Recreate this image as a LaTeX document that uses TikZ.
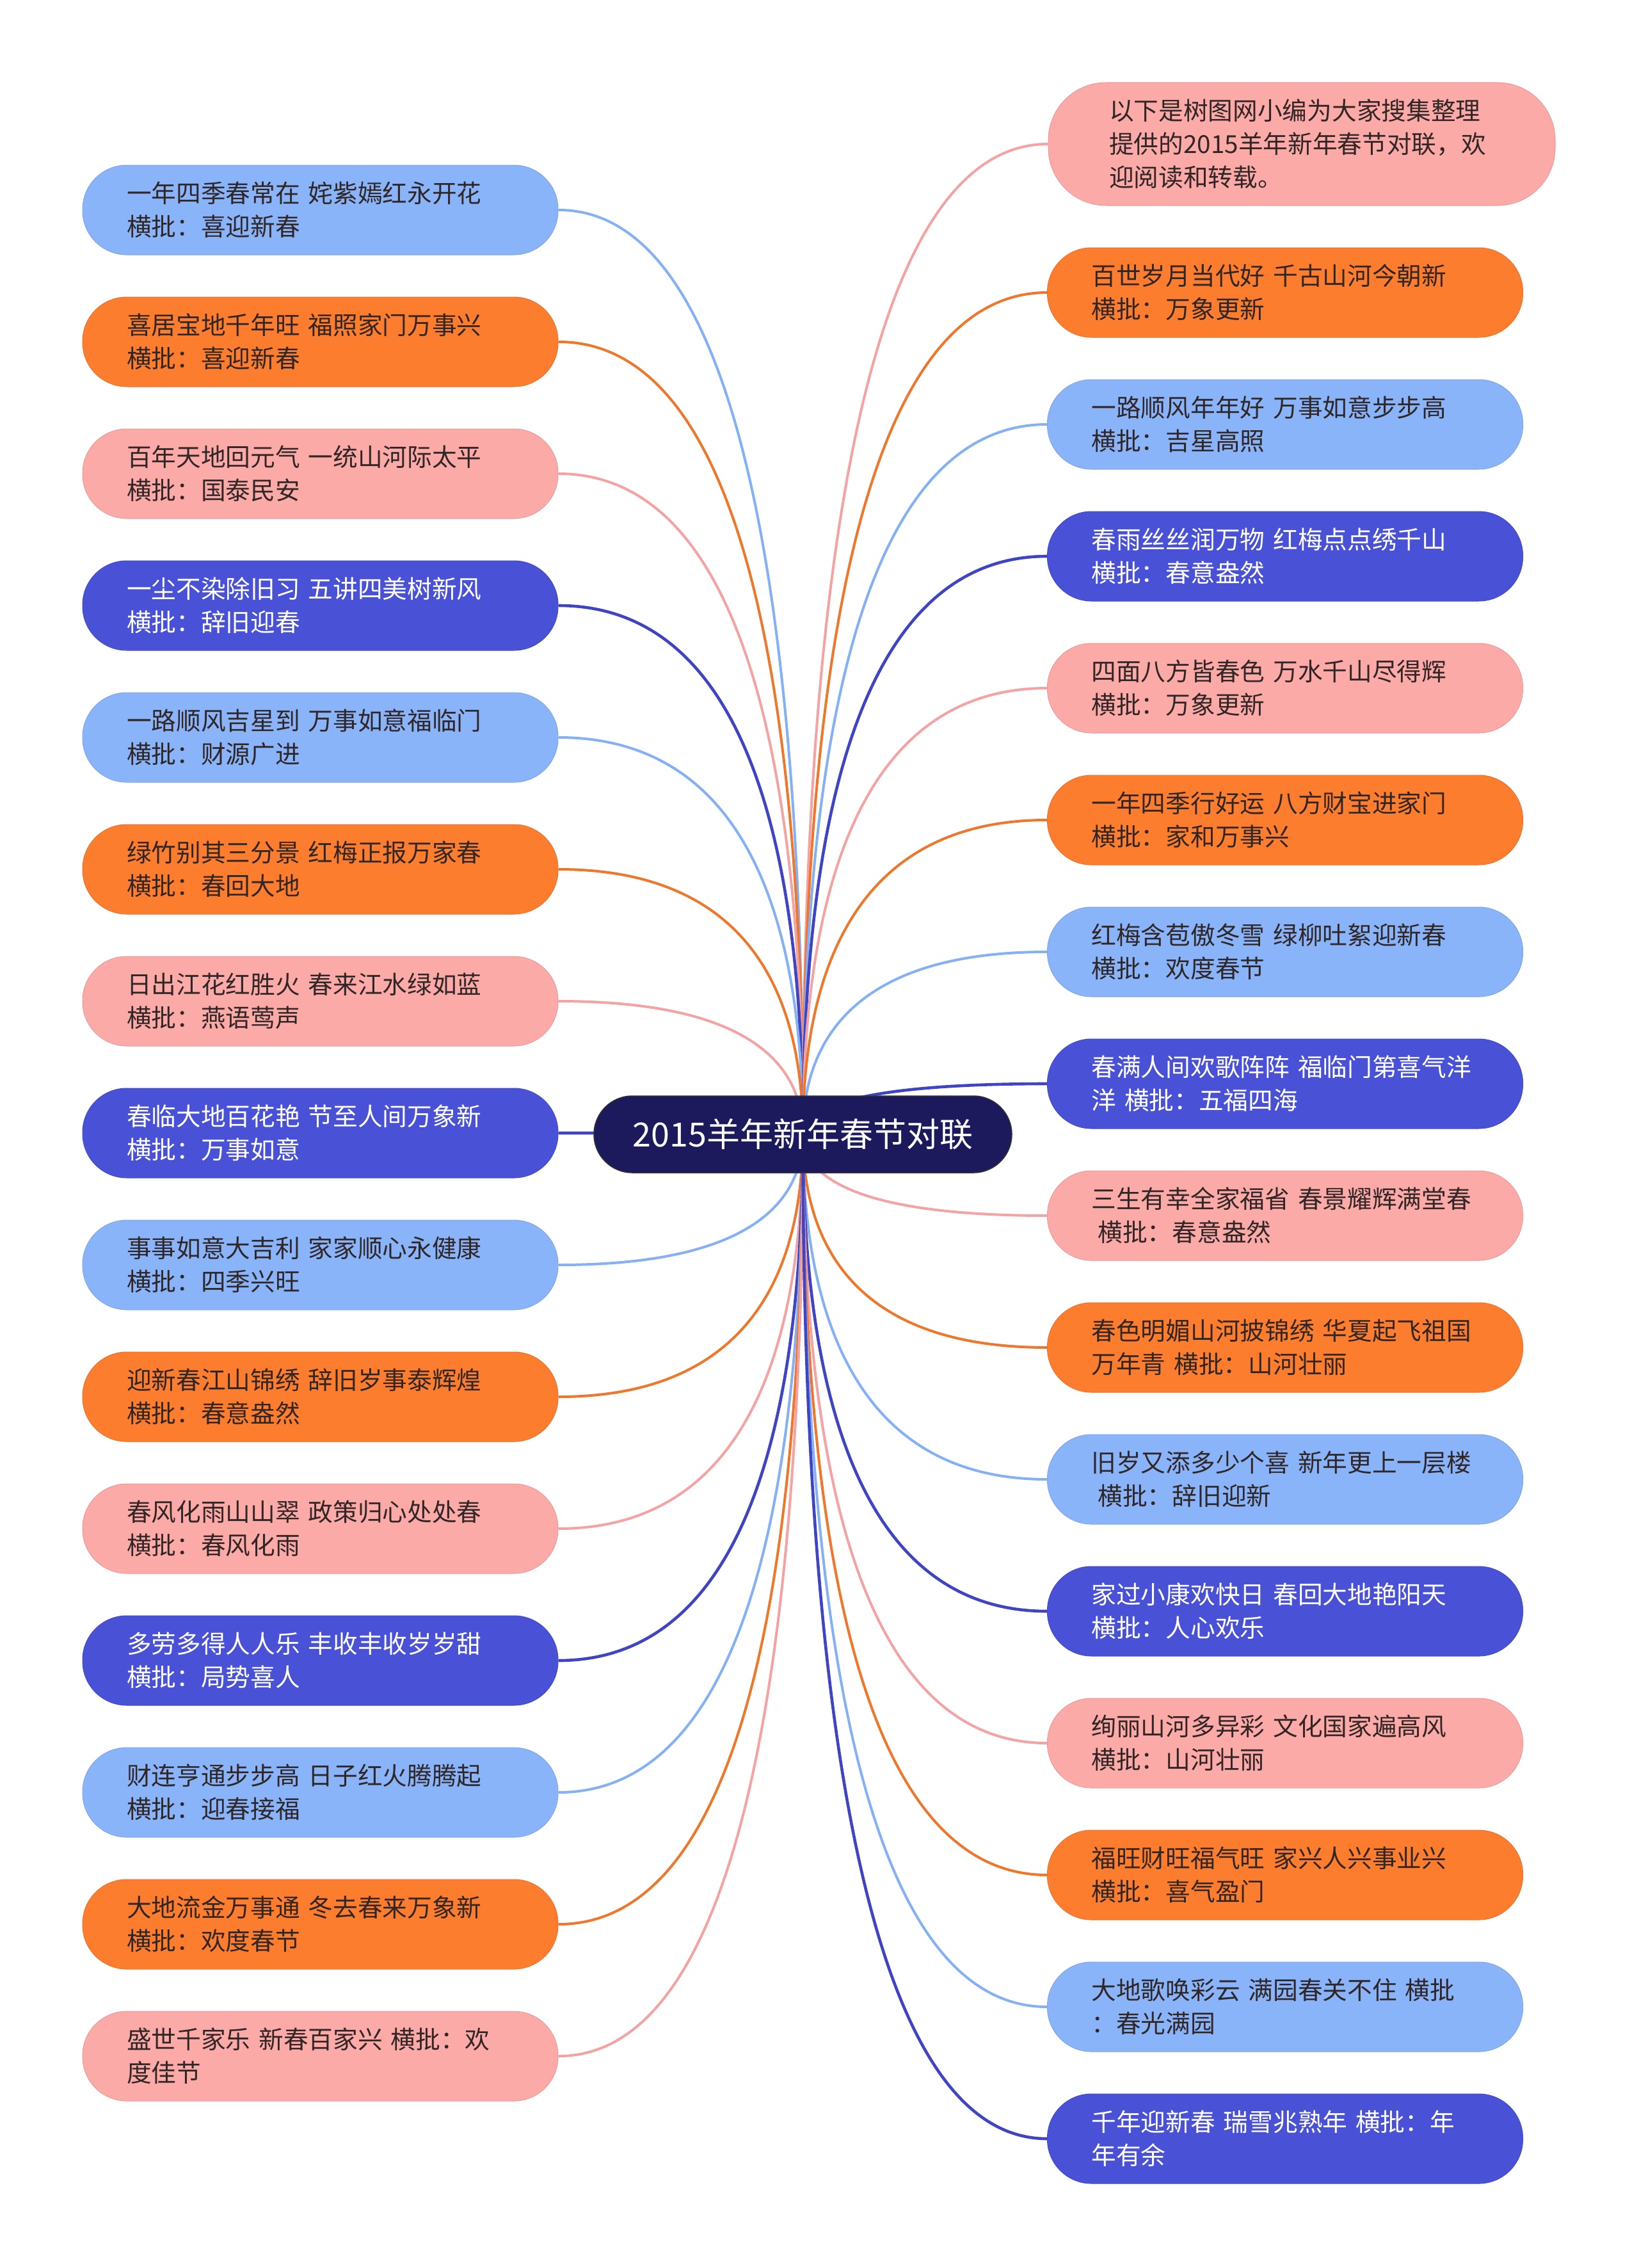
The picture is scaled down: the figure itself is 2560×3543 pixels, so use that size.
\documentclass[tikz,border=0pt]{standalone}
\usepackage{fontspec}
\setmainfont{Noto Sans CJK SC}
\usetikzlibrary{calc}
\definecolor{cblue}{RGB}{138,180,250}
\definecolor{corange}{RGB}{253,125,47}
\definecolor{cpink}{RGB}{252,170,168}
\definecolor{cpurple}{RGB}{73,81,215}
\definecolor{lblue}{RGB}{132,176,246}
\definecolor{lorange}{RGB}{240,118,42}
\definecolor{lpink}{RGB}{244,162,162}
\definecolor{lpurple}{RGB}{62,68,196}
\definecolor{cnavy}{RGB}{28,26,92}
\definecolor{ctext}{RGB}{48,38,38}
\pgfdeclarelayer{bg}
\pgfsetlayers{bg,main}
\tikzset{
  leaf/.style={rectangle, rounded corners=69pt, minimum height=140pt, text width=605pt,
    inner xsep=69pt, inner ysep=0pt, align=left, text=ctext,
    font=\fontsize{38.7}{52}\selectfont},
  bluebox/.style={leaf, fill=cblue, draw=cblue!92!black, line width=1pt},
  orangebox/.style={leaf, fill=corange, draw=corange!92!black, line width=1pt},
  pinkbox/.style={leaf, fill=cpink, draw=cpink!92!black, line width=1pt},
  purplebox/.style={leaf, fill=cpurple, draw=cpurple!92!black, line width=1pt, text=white},
  rootbox/.style={rectangle, rounded corners=60pt, minimum width=653pt, minimum height=120pt,
    fill=cnavy, draw=black!80, line width=1.5pt, text=white, inner sep=0pt,
    font=\fontsize{52}{60}\selectfont},
  mm/.style={line width=4pt, to path={.. controls ($(\tikztostart)!0.5!(\tikztostart |- \tikztotarget)$)
    and ($(\tikztotarget)!0.8!(\tikztostart |- \tikztotarget)$) .. (\tikztotarget) \tikztonodes}},
  lb/.style={mm, draw=lblue},
  lo/.style={mm, draw=lorange},
  lp/.style={mm, draw=lpink},
  lu/.style={mm, draw=lpurple, line width=4.6pt},
}
\begin{document}
\begin{tikzpicture}[x=1pt,y=-1pt]
\useasboundingbox (0,0) rectangle (2560,3543);

\node[rootbox] (root) at (1254.5,1772) {2015羊年新年春节对联};

% left column
\node[bluebox]   (L1)  at (500.5,328)  {一年四季春常在 姹紫嫣红永开花\\横批：喜迎新春};
\node[orangebox] (L2)  at (500.5,534)  {喜居宝地千年旺 福照家门万事兴\\横批：喜迎新春};
\node[pinkbox]   (L3)  at (500.5,740)  {百年天地回元气 一统山河际太平\\横批：国泰民安};
\node[purplebox] (L4)  at (500.5,946)  {一尘不染除旧习 五讲四美树新风\\横批：辞旧迎春};
\node[bluebox]   (L5)  at (500.5,1152) {一路顺风吉星到 万事如意福临门\\横批：财源广进};
\node[orangebox] (L6)  at (500.5,1358) {绿竹别其三分景 红梅正报万家春\\横批：春回大地};
\node[pinkbox]   (L7)  at (500.5,1564) {日出江花红胜火 春来江水绿如蓝\\横批：燕语莺声};
\node[purplebox] (L8)  at (500.5,1770) {春临大地百花艳 节至人间万象新\\横批：万事如意};
\node[bluebox]   (L9)  at (500.5,1976) {事事如意大吉利 家家顺心永健康\\横批：四季兴旺};
\node[orangebox] (L10) at (500.5,2182) {迎新春江山锦绣 辞旧岁事泰辉煌\\横批：春意盎然};
\node[pinkbox]   (L11) at (500.5,2388) {春风化雨山山翠 政策归心处处春\\横批：春风化雨};
\node[purplebox] (L12) at (500.5,2594) {多劳多得人人乐 丰收丰收岁岁甜\\横批：局势喜人};
\node[bluebox]   (L13) at (500.5,2800) {财连亨通步步高 日子红火腾腾起\\横批：迎春接福};
\node[orangebox] (L14) at (500.5,3006) {大地流金万事通 冬去春来万象新\\横批：欢度春节};
\node[pinkbox]   (L15) at (500.5,3212) {盛世千家乐 新春百家兴 横批：欢\\度佳节};

% right column
\node[pinkbox, text width=602pt, inner xsep=95pt, minimum height=192pt, rounded corners=90pt]
                 (R1)  at (2034,225)   {以下是树图网小编为大家搜集整理\\提供的2015羊年新年春节对联，欢\\迎阅读和转载。};
\node[orangebox] (R2)  at (2008,457)   {百世岁月当代好 千古山河今朝新\\横批：万象更新};
\node[bluebox]   (R3)  at (2008,663)   {一路顺风年年好 万事如意步步高\\横批：吉星高照};
\node[purplebox] (R4)  at (2008,869)   {春雨丝丝润万物 红梅点点绣千山\\横批：春意盎然};
\node[pinkbox]   (R5)  at (2008,1075)  {四面八方皆春色 万水千山尽得辉\\横批：万象更新};
\node[orangebox] (R6)  at (2008,1281)  {一年四季行好运 八方财宝进家门\\横批：家和万事兴};
\node[bluebox]   (R7)  at (2008,1487)  {红梅含苞傲冬雪 绿柳吐絮迎新春\\横批：欢度春节};
\node[purplebox] (R8)  at (2008,1693)  {春满人间欢歌阵阵 福临门第喜气洋\\洋 横批：五福四海};
\node[pinkbox]   (R9)  at (2008,1899)  {三生有幸全家福省 春景耀辉满堂春\\\hspace*{10pt}横批：春意盎然};
\node[orangebox] (R10) at (2008,2105)  {春色明媚山河披锦绣 华夏起飞祖国\\万年青 横批：山河壮丽};
\node[bluebox]   (R11) at (2008,2311)  {旧岁又添多少个喜 新年更上一层楼\\\hspace*{10pt}横批：辞旧迎新};
\node[purplebox] (R12) at (2008,2517)  {家过小康欢快日 春回大地艳阳天\\横批：人心欢乐};
\node[pinkbox]   (R13) at (2008,2723)  {绚丽山河多异彩 文化国家遍高风\\横批：山河壮丽};
\node[orangebox] (R14) at (2008,2929)  {福旺财旺福气旺 家兴人兴事业兴\\横批：喜气盈门};
\node[bluebox]   (R15) at (2008,3135)  {大地歌唤彩云 满园春关不住 横批\\：春光满园};
\node[purplebox] (R16) at (2008,3341)  {千年迎新春 瑞雪兆熟年 横批：年\\年有余};

\begin{pgfonlayer}{bg}
\fill[white] (0,0) rectangle (2560,3543);
\draw[lb] (root.center) to (L1.east);
\draw[lo] (root.center) to (L2.east);
\draw[lp] (root.center) to (L3.east);
\draw[lu] (root.center) to (L4.east);
\draw[lb] (root.center) to (L5.east);
\draw[lo] (root.center) to (L6.east);
\draw[lp] (root.center) to (L7.east);
\draw[lu] (root.center) to (L8.east);
\draw[lb] (root.center) to (L9.east);
\draw[lo] (root.center) to (L10.east);
\draw[lp] (root.center) to (L11.east);
\draw[lu] (root.center) to (L12.east);
\draw[lb] (root.center) to (L13.east);
\draw[lo] (root.center) to (L14.east);
\draw[lp] (root.center) to (L15.east);
\draw[lp] (root.center) to (R1.west);
\draw[lo] (root.center) to (R2.west);
\draw[lb] (root.center) to (R3.west);
\draw[lu] (root.center) to (R4.west);
\draw[lp] (root.center) to (R5.west);
\draw[lo] (root.center) to (R6.west);
\draw[lb] (root.center) to (R7.west);
\draw[lu] (root.center) to (R8.west);
\draw[lp] (root.center) to (R9.west);
\draw[lo] (root.center) to (R10.west);
\draw[lb] (root.center) to (R11.west);
\draw[lu] (root.center) to (R12.west);
\draw[lp] (root.center) to (R13.west);
\draw[lo] (root.center) to (R14.west);
\draw[lb] (root.center) to (R15.west);
\draw[lu] (root.center) to (R16.west);
\end{pgfonlayer}
\end{tikzpicture}
\end{document}
